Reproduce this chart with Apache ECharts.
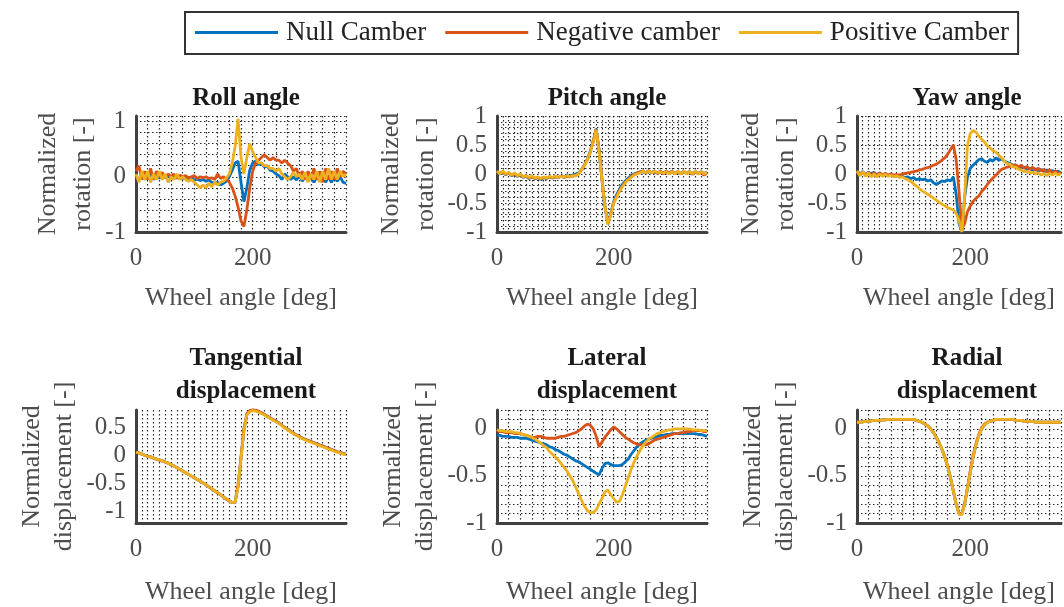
<!DOCTYPE html>
<html><head><meta charset="utf-8">
<script src="https://cdn.jsdelivr.net/npm/echarts@6/dist/echarts.min.js"></script>
<style>html,body{margin:0;padding:0;background:#fff}#c{width:1064px;height:607px}</style>
</head><body><div id="c"></div>
<script>
// ---------- DATA ----------
const angles = [0,5,10,15,20,25,30,35,40,45,50,55,60,65,70,75,80,85,90,95,100,105,110,115,120,125,130,135,140,145,150,155,160,165,170,175,180,185,190,195,200,205,210,215,220,225,230,235,240,245,250,255,260,265,270,275,280,285,290,295,300,305,310,315,320,325,330,335,340,345,350,355,360];

const seriesNames = ['Null Camber', 'Negative camber', 'Positive Camber'];
const xTickLabels = [0, 200];

// Roll angle
const rollNull = [0.0,-0.05,0.05,-0.05,0.02,0.05,-0.05,0.03,-0.03,0.05,-0.02,0.03,-0.03,0.02,-0.02,0.0,-0.03,-0.02,-0.05,-0.03,-0.06,-0.04,-0.07,-0.05,-0.08,-0.06,-0.1,-0.12,-0.1,-0.15,-0.12,-0.08,0.0,0.12,0.25,0.28,-0.1,-0.45,-0.2,0.12,0.25,0.28,0.22,0.25,0.18,0.2,0.12,0.1,0.05,0.02,-0.05,0.05,0.0,-0.05,0.0,-0.06,0.02,-0.08,0.0,-0.06,-0.02,-0.1,0.0,-0.08,0.02,-0.1,0.0,-0.1,0.0,-0.08,0.0,-0.1,-0.12];
const rollNeg = [0.1,0.2,-0.05,0.1,-0.05,0.15,-0.05,0.1,0.0,0.08,-0.02,0.05,0.0,0.05,-0.03,0.03,0.0,0.02,-0.02,0.0,0.02,-0.03,0.0,-0.02,0.0,-0.03,-0.02,-0.05,0.05,-0.03,0.0,-0.05,-0.1,-0.2,-0.35,-0.55,-0.8,-0.9,-0.6,-0.2,0.1,0.25,0.3,0.35,0.4,0.35,0.3,0.35,0.3,0.3,0.25,0.3,0.25,0.2,0.1,0.15,0.0,0.1,-0.05,0.1,-0.05,0.15,-0.05,0.1,-0.1,0.15,-0.05,0.1,-0.05,0.15,0.0,0.1,0.05];
const rollPos = [0.05,-0.1,0.1,-0.05,0.1,-0.1,0.05,-0.05,0.1,-0.05,0.05,-0.1,0.0,-0.05,0.05,-0.05,0.0,-0.05,-0.08,-0.05,-0.1,-0.15,-0.2,-0.15,-0.2,-0.12,-0.18,-0.1,-0.15,-0.1,-0.08,-0.02,0.05,0.25,0.55,1.05,0.35,0.05,0.35,0.6,0.45,0.35,0.25,0.25,0.2,0.2,0.15,0.15,0.1,0.15,0.05,0.0,-0.05,0.0,0.08,0.0,0.05,-0.05,0.08,-0.1,0.05,-0.05,0.1,-0.1,0.1,-0.05,0.15,-0.05,0.1,-0.05,0.1,0.0,0.05];

// Pitch angle
const pitchNull = [0.03,0.0,0.03,-0.01,0.02,-0.03,0.0,-0.04,-0.02,-0.06,-0.04,-0.08,-0.05,-0.08,-0.06,-0.09,-0.06,-0.08,-0.05,-0.07,-0.05,-0.06,-0.04,-0.05,-0.03,-0.04,-0.02,0.0,0.02,0.08,0.16,0.26,0.4,0.57,0.78,0.42,-0.1,-0.55,-0.86,-0.68,-0.48,-0.36,-0.26,-0.18,-0.12,-0.07,-0.03,0.0,0.02,0.03,0.04,0.03,0.04,0.03,0.04,0.02,0.04,0.02,0.04,0.01,0.04,0.01,0.04,0.01,0.04,0.01,0.04,0.01,0.04,0.01,0.04,0.01,0.03];
const pitchNeg = [0.04,0.01,0.04,-0.01,0.02,-0.02,0.0,-0.03,-0.01,-0.05,-0.03,-0.07,-0.05,-0.08,-0.06,-0.08,-0.06,-0.07,-0.05,-0.07,-0.04,-0.06,-0.04,-0.06,-0.04,-0.05,-0.03,-0.02,0.0,0.07,0.15,0.25,0.38,0.56,0.77,0.41,-0.1,-0.55,-0.86,-0.7,-0.5,-0.39,-0.29,-0.21,-0.14,-0.09,-0.05,-0.01,0.02,0.04,0.05,0.02,0.06,0.02,0.05,0.01,0.05,0.0,0.05,0.01,0.05,0.0,0.04,0.0,0.05,0.0,0.04,-0.01,0.04,0.0,0.03,-0.02,0.02];
const pitchPos = [0.05,0.0,0.05,0.0,0.03,-0.02,0.02,-0.03,0.0,-0.05,-0.03,-0.06,-0.03,-0.07,-0.05,-0.08,-0.05,-0.07,-0.04,-0.06,-0.04,-0.06,-0.04,-0.05,-0.03,-0.05,-0.03,-0.03,0.0,0.08,0.15,0.25,0.38,0.55,0.76,0.4,-0.1,-0.55,-0.87,-0.7,-0.5,-0.4,-0.3,-0.22,-0.15,-0.1,-0.06,-0.02,0.0,0.02,0.05,0.02,0.05,0.02,0.05,0.02,0.04,0.01,0.04,0.0,0.04,0.0,0.05,0.0,0.05,0.0,0.04,0.0,0.05,0.0,0.04,0.0,0.03];

// Yaw angle
const yawNull = [0.05,0.0,0.04,-0.02,0.03,0.0,0.03,-0.02,0.02,-0.03,0.01,-0.03,0.0,-0.04,-0.02,-0.05,-0.04,-0.06,-0.05,-0.08,-0.06,-0.1,-0.08,-0.1,-0.09,-0.12,-0.1,-0.15,-0.18,-0.15,-0.12,-0.13,-0.1,-0.12,-0.05,-0.35,-0.85,-1.0,-0.4,-0.05,0.1,0.15,0.2,0.25,0.26,0.22,0.2,0.25,0.22,0.28,0.24,0.26,0.22,0.2,0.18,0.15,0.15,0.12,0.1,0.12,0.08,0.1,0.06,0.09,0.05,0.08,0.04,0.07,0.03,0.06,0.02,0.05,0.02];
const yawNeg = [0.05,-0.02,0.04,-0.02,0.03,-0.03,0.02,-0.03,0.02,-0.03,0.01,-0.02,0.0,-0.02,-0.01,-0.02,0.0,0.01,0.02,0.03,0.04,0.05,0.07,0.08,0.1,0.11,0.13,0.15,0.17,0.2,0.24,0.28,0.34,0.42,0.5,0.25,-0.3,-0.95,-0.85,-0.65,-0.55,-0.47,-0.42,-0.38,-0.3,-0.25,-0.18,-0.12,-0.07,-0.02,0.03,0.08,0.1,0.12,0.13,0.15,0.16,0.12,0.15,0.1,0.13,0.08,0.12,0.06,0.1,0.05,0.08,0.03,0.07,0.02,0.05,0.0,0.03];
const yawPos = [0.05,-0.03,0.04,-0.04,0.02,-0.05,0.0,-0.05,0.0,-0.04,0.0,-0.04,-0.02,-0.05,-0.03,-0.06,-0.05,-0.08,-0.1,-0.13,-0.17,-0.21,-0.25,-0.29,-0.32,-0.35,-0.38,-0.42,-0.45,-0.49,-0.52,-0.55,-0.58,-0.6,-0.62,-0.68,-0.8,-1.0,-0.4,0.5,0.7,0.75,0.72,0.65,0.6,0.55,0.48,0.45,0.4,0.38,0.33,0.28,0.22,0.18,0.17,0.12,0.12,0.08,0.07,0.04,0.05,0.02,0.03,0.0,0.02,-0.02,0.01,-0.03,0.01,-0.02,0.02,-0.02,0.01];

// Tangential displacement
const tangNull = [0.05,0.04,0.02,0.0,-0.02,-0.03,-0.05,-0.07,-0.08,-0.1,-0.12,-0.14,-0.16,-0.19,-0.22,-0.25,-0.28,-0.31,-0.34,-0.37,-0.4,-0.43,-0.46,-0.49,-0.52,-0.56,-0.59,-0.63,-0.66,-0.7,-0.74,-0.77,-0.81,-0.84,-0.83,-0.55,-0.05,0.45,0.72,0.78,0.8,0.79,0.77,0.75,0.72,0.69,0.66,0.63,0.6,0.57,0.53,0.49,0.46,0.42,0.39,0.36,0.33,0.3,0.28,0.26,0.24,0.22,0.2,0.18,0.16,0.14,0.12,0.1,0.08,0.06,0.05,0.03,0.02];
const tangNeg = [0.05,0.04,0.02,0.0,-0.02,-0.03,-0.05,-0.07,-0.09,-0.1,-0.12,-0.14,-0.17,-0.19,-0.22,-0.25,-0.28,-0.31,-0.34,-0.37,-0.4,-0.43,-0.46,-0.49,-0.53,-0.56,-0.6,-0.63,-0.67,-0.7,-0.74,-0.78,-0.81,-0.84,-0.82,-0.53,-0.03,0.47,0.73,0.79,0.81,0.8,0.78,0.75,0.72,0.69,0.66,0.63,0.6,0.57,0.53,0.49,0.46,0.42,0.39,0.36,0.33,0.3,0.28,0.26,0.24,0.22,0.2,0.18,0.16,0.14,0.12,0.1,0.08,0.06,0.05,0.03,0.02];
const tangPos = [0.05,0.04,0.02,0.0,-0.02,-0.03,-0.05,-0.07,-0.08,-0.1,-0.12,-0.14,-0.16,-0.19,-0.22,-0.25,-0.28,-0.31,-0.34,-0.37,-0.4,-0.43,-0.46,-0.49,-0.52,-0.56,-0.59,-0.63,-0.66,-0.7,-0.74,-0.77,-0.81,-0.84,-0.83,-0.56,-0.06,0.44,0.71,0.77,0.79,0.78,0.76,0.74,0.71,0.68,0.65,0.62,0.59,0.56,0.52,0.48,0.45,0.41,0.38,0.35,0.32,0.29,0.27,0.25,0.23,0.21,0.19,0.17,0.15,0.13,0.11,0.09,0.07,0.05,0.04,0.02,0.01];

// Lateral displacement
const latNull = [-0.07,-0.07,-0.08,-0.08,-0.08,-0.09,-0.09,-0.09,-0.1,-0.1,-0.1,-0.11,-0.12,-0.13,-0.14,-0.15,-0.16,-0.17,-0.19,-0.2,-0.22,-0.23,-0.25,-0.27,-0.28,-0.3,-0.32,-0.34,-0.35,-0.37,-0.39,-0.41,-0.43,-0.45,-0.47,-0.49,-0.42,-0.37,-0.36,-0.38,-0.39,-0.39,-0.39,-0.38,-0.35,-0.32,-0.27,-0.23,-0.19,-0.16,-0.14,-0.12,-0.11,-0.1,-0.09,-0.08,-0.07,-0.07,-0.06,-0.06,-0.05,-0.05,-0.05,-0.05,-0.05,-0.05,-0.05,-0.05,-0.05,-0.06,-0.06,-0.07,-0.08];
const latNeg = [-0.02,-0.03,-0.03,-0.04,-0.04,-0.04,-0.05,-0.05,-0.05,-0.06,-0.07,-0.08,-0.09,-0.09,-0.08,-0.08,-0.09,-0.1,-0.1,-0.1,-0.1,-0.09,-0.08,-0.08,-0.07,-0.06,-0.05,-0.04,-0.02,0.0,0.03,0.05,0.04,0.0,-0.08,-0.19,-0.14,-0.09,-0.05,-0.01,0.02,0.0,-0.03,-0.06,-0.09,-0.11,-0.13,-0.15,-0.16,-0.17,-0.17,-0.17,-0.16,-0.14,-0.12,-0.11,-0.1,-0.09,-0.08,-0.07,-0.06,-0.05,-0.05,-0.04,-0.04,-0.03,-0.03,-0.02,-0.02,-0.02,-0.02,-0.03,-0.03];
const latPos = [-0.01,-0.02,-0.02,-0.03,-0.03,-0.03,-0.04,-0.04,-0.05,-0.06,-0.07,-0.08,-0.09,-0.11,-0.13,-0.15,-0.18,-0.2,-0.24,-0.27,-0.3,-0.33,-0.37,-0.41,-0.45,-0.5,-0.55,-0.62,-0.69,-0.76,-0.82,-0.87,-0.89,-0.89,-0.86,-0.8,-0.74,-0.67,-0.65,-0.7,-0.74,-0.78,-0.77,-0.7,-0.61,-0.52,-0.43,-0.35,-0.29,-0.23,-0.18,-0.14,-0.11,-0.09,-0.07,-0.05,-0.04,-0.03,-0.02,-0.01,-0.01,0.0,0.0,0.0,0.0,0.0,0.0,-0.01,-0.01,-0.01,-0.02,-0.02,-0.02];

// Radial displacement
const radNull = [0.07,0.07,0.075,0.08,0.08,0.085,0.09,0.09,0.09,0.095,0.095,0.1,0.1,0.1,0.1,0.1,0.1,0.1,0.1,0.1,0.1,0.09,0.08,0.07,0.05,0.03,0.0,-0.04,-0.09,-0.15,-0.22,-0.3,-0.4,-0.52,-0.66,-0.8,-0.9,-0.9,-0.8,-0.63,-0.46,-0.3,-0.17,-0.07,0.0,0.04,0.07,0.08,0.09,0.1,0.1,0.1,0.1,0.1,0.1,0.1,0.09,0.09,0.09,0.08,0.08,0.08,0.08,0.07,0.07,0.07,0.07,0.07,0.07,0.07,0.07,0.07,0.07];
const radNeg = [0.07,0.07,0.075,0.08,0.08,0.085,0.09,0.09,0.09,0.095,0.095,0.1,0.1,0.1,0.1,0.1,0.1,0.1,0.1,0.1,0.1,0.09,0.08,0.07,0.05,0.03,0.0,-0.04,-0.09,-0.15,-0.22,-0.3,-0.4,-0.52,-0.66,-0.8,-0.9,-0.9,-0.79,-0.62,-0.44,-0.28,-0.16,-0.06,0.01,0.05,0.07,0.08,0.09,0.1,0.1,0.1,0.1,0.1,0.1,0.1,0.09,0.09,0.09,0.08,0.08,0.08,0.08,0.07,0.07,0.07,0.07,0.07,0.07,0.07,0.07,0.07,0.07];
const radPos = [0.07,0.07,0.075,0.08,0.08,0.085,0.09,0.09,0.09,0.095,0.095,0.1,0.1,0.1,0.1,0.1,0.1,0.1,0.1,0.1,0.1,0.09,0.08,0.07,0.05,0.03,0.0,-0.04,-0.09,-0.15,-0.22,-0.3,-0.4,-0.52,-0.66,-0.8,-0.91,-0.91,-0.8,-0.63,-0.46,-0.3,-0.17,-0.07,0.0,0.04,0.07,0.08,0.09,0.1,0.1,0.1,0.1,0.1,0.1,0.1,0.09,0.09,0.09,0.08,0.08,0.08,0.08,0.07,0.07,0.07,0.07,0.07,0.07,0.07,0.07,0.07,0.07];

// Panel definitions (texts, y ranges, tick labels)
const panelTitles = ['Roll angle', 'Pitch angle', 'Yaw angle', 'Tangential\ndisplacement', 'Lateral\ndisplacement', 'Radial\ndisplacement'];
const yNames = ['Normalized\nrotation [-]', 'Normalized\nrotation [-]', 'Normalized\nrotation [-]', 'Normalized\ndisplacement [-]', 'Normalized\ndisplacement [-]', 'Normalized\ndisplacement [-]'];
const yMins = [-1, -1, -1, -1.2, -1, -1];
const yMaxs = [1.1, 1, 1, 0.8, 0.2, 0.2];
const yTickLabels = [[-1, 0, 1], [-1, -0.5, 0, 0.5, 1], [-1, -0.5, 0, 0.5, 1], [-1, -0.5, 0, 0.5], [-1, -0.5, 0], [-1, -0.5, 0]];
const panelData = [
  [rollNull, rollNeg, rollPos],
  [pitchNull, pitchNeg, pitchPos],
  [yawNull, yawNeg, yawPos],
  [tangNull, tangNeg, tangPos],
  [latNull, latNeg, latPos],
  [radNull, radNeg, radPos]
];

// ---------- STYLE / LAYOUT ----------
const colors = ['#0072BD', '#D95319', '#EDB120'];
const FONT = 'Liberation Serif';
const gridLefts = [136, 497, 857];
const gridW = 210;
const rowTops = [116, 410];
const rowH = [116, 113];
const xGridStep = [20, 10, 10, 10, 20, 20];
const yGridStep = [0.2, 0.1, 0.5, 0.1, 0.1, 0.1];
const showYSplit = [true, true, true, false, true, true];
const gridColor = 'rgba(20,20,20,0.9)';
const axisColor = '#404040';
const textGray = '#4d4d4d';

const grids = [], xAxes = [], yAxes = [], series = [], titles = [];
for (let i = 0; i < 6; i++) {
  const r = Math.floor(i / 3), c = i % 3;
  grids.push({left: gridLefts[c], top: rowTops[r], width: gridW, height: rowH[r], containLabel: false});
  xAxes.push({
    type: 'value', gridIndex: i, min: 0, max: 360, interval: xGridStep[i],
    name: 'Wheel angle [deg]', nameLocation: 'middle', nameGap: r === 0 ? 53 : 56,
    nameTextStyle: {fontFamily: FONT, fontSize: 26, color: textGray},
    axisLine: {onZero: false, lineStyle: {color: axisColor, width: 3}},
    axisTick: {show: false},
    axisLabel: {
      margin: 14, fontFamily: FONT, fontSize: 25, color: textGray,
      formatter: v => xTickLabels.some(t => Math.abs(t - v) < 1e-6) ? String(Math.round(v)) : ''
    },
    splitLine: {show: true, lineStyle: {color: gridColor, type: [1.5, 2.5], width: 1.2}}
  });
  const yt = yTickLabels[i];
  yAxes.push({
    type: 'value', gridIndex: i, min: yMins[i], max: yMaxs[i], interval: yGridStep[i],
    name: yNames[i], nameLocation: 'middle', nameRotate: 90, nameGap: r === 0 ? 35 : 56,
    nameTextStyle: {fontFamily: FONT, fontSize: 26, color: textGray, lineHeight: r === 0 ? 35 : 32},
    axisLine: {onZero: false, lineStyle: {color: axisColor, width: 3}},
    axisTick: {show: false},
    axisLabel: {
      margin: 10, fontFamily: FONT, fontSize: 25, color: textGray,
      formatter: v => { for (const t of yt) { if (Math.abs(t - v) < 1e-6) return String(t); } return ''; }
    },
    splitLine: {show: showYSplit[i], lineStyle: {color: gridColor, type: [1.5, 2.5], width: 1.2}}
  });
  for (let s = 0; s < 3; s++) {
    const vals = panelData[i][s];
    series.push({
      type: 'line', name: seriesNames[s], xAxisIndex: i, yAxisIndex: i,
      data: angles.map((a, k) => [a, vals[k]]),
      symbol: 'none', showSymbol: false,
      lineStyle: {color: colors[s], width: 2.8},
      itemStyle: {color: colors[s]},
      z: 3 + s
    });
  }
  const twoLine = panelTitles[i].indexOf('\n') >= 0;
  titles.push({
    text: panelTitles[i], left: gridLefts[c] + gridW / 2, top: r === 0 ? 80 : 337,
    textAlign: 'center',
    textStyle: {fontFamily: FONT, fontSize: 25, fontWeight: 'bold', color: '#1a1a1a', lineHeight: twoLine ? 33 : 28}
  });
}

const chart = echarts.init(document.getElementById('c'), null, {renderer: 'canvas'});
chart.setOption({
  animation: false,
  backgroundColor: '#ffffff',
  title: titles,
  legend: {
    data: seriesNames.map(n => ({name: n, icon: 'rect'})),
    left: 185, top: 12,
    itemWidth: 83, itemHeight: 3, itemGap: 19,
    padding: [7, 9, 8, 10], borderColor: '#333', borderWidth: 2,
    textStyle: {fontFamily: FONT, fontSize: 27, color: '#222', padding: [0, 0, 0, 3]}
  },
  grid: grids, xAxis: xAxes, yAxis: yAxes, series: series
});
</script>
</body></html>
